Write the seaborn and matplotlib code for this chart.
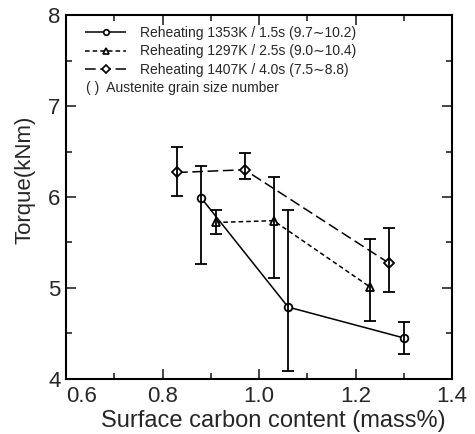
import matplotlib
matplotlib.use("Agg")
import matplotlib.pyplot as plt
from matplotlib.ticker import MultipleLocator
from matplotlib.lines import Line2D
import seaborn as sns
import pandas as pd
import numpy as np

sns.set_style("ticks")
plt.rcParams['font.family'] = ['Liberation Sans', 'DejaVu Sans']

labels = ["Reheating 1353K / 1.5s (9.7\u223c10.2)",
          "Reheating 1297K / 2.5s (9.0\u223c10.4)",
          "Reheating 1407K / 4.0s (7.5\u223c8.8)"]
note = "( )  Austenite grain size number"

x1 = [0.88, 1.06, 1.30]
y1 = [5.99, 4.79, 4.45]
lo1 = [5.26, 4.09, 4.27]
hi1 = [6.34, 5.86, 4.63]

x2 = [0.91, 1.03, 1.23]
y2 = [5.72, 5.74, 5.01]
lo2 = [5.59, 5.11, 4.64]
hi2 = [5.86, 6.22, 5.54]

x3 = [0.83, 0.97, 1.27]
y3 = [6.27, 6.30, 5.27]
lo3 = [6.01, 6.20, 4.96]
hi3 = [6.55, 6.48, 5.66]

xticks = [0.6, 0.8, 1.0, 1.2, 1.4]
xticklabels = ["0.6", "0.8", "1.0", "1.2", "1.4"]
yticks = [4, 5, 6, 7, 8]

series = [(x1, y1, lo1, hi1, 'o', (0, ()), 5.5),
          (x2, y2, lo2, hi2, '^', (0, (3, 2)), 5.5),
          (x3, y3, lo3, hi3, 'D', (0, (7, 3)), 5.5)]

fig = plt.figure(figsize=(4.75, 4.34), dpi=100)
ax = fig.add_axes([0.139, 0.127, 0.813, 0.838])

handles = []
for (x, y, lo, hi, m, ls, ms), lab in zip(series, labels):
    df = pd.DataFrame({"x": x, "y": y})
    sns.lineplot(data=df, x="x", y="y", ax=ax, color="black", linewidth=1.1,
                 linestyle=ls, marker=m, markersize=ms, markerfacecolor="white",
                 markeredgecolor="black", markeredgewidth=1.3, legend=False)
    yerr = np.array([np.array(y) - np.array(lo), np.array(hi) - np.array(y)])
    ax.errorbar(x, y, yerr=yerr, fmt='none', ecolor='black', elinewidth=1.3,
                capsize=4.5, capthick=1.3)
    handles.append(Line2D([0], [0], color='black', linestyle=ls, linewidth=1.1,
                          marker=m, markersize=4, markerfacecolor='white',
                          markeredgecolor='black', markeredgewidth=1.2, label=lab))

leg = ax.legend(handles=handles, loc='upper left', frameon=False, fontsize=10,
                handlelength=3.0, handletextpad=1.0, borderaxespad=0.0,
                labelspacing=0.3, bbox_to_anchor=(0.034, 0.985))
ax.text(0.052, 0.80, note, transform=ax.transAxes, fontsize=10,
        ha='left', va='center')

ax.set_xlim(0.6, 1.4)
ax.set_ylim(4, 8)
ax.xaxis.set_minor_locator(MultipleLocator(0.1))
ax.yaxis.set_minor_locator(MultipleLocator(0.5))
ax.set_xticks(xticks)
ax.set_xticklabels(xticklabels)
ax.get_xticklabels()[0].set_horizontalalignment('left')
ax.set_yticks(yticks)
ax.tick_params(which='both', direction='in', top=True, right=True, width=1.2)
ax.tick_params(which='major', length=7, labelsize=16)
ax.tick_params(axis='x', which='major', pad=5)
ax.tick_params(axis='y', which='major', pad=4)
ax.tick_params(which='minor', length=4)
for s in ax.spines.values():
    s.set_linewidth(1.5)
    s.set_color('black')
ax.set_xlabel("Surface carbon content (mass%)", fontsize=17)
ax.set_ylabel("Torque(kNm)", fontsize=16)
ax.xaxis.set_label_coords(0.537, -0.085)
ax.yaxis.set_label_coords(-0.079, 0.548)

fig.savefig("out.png", dpi=100)
